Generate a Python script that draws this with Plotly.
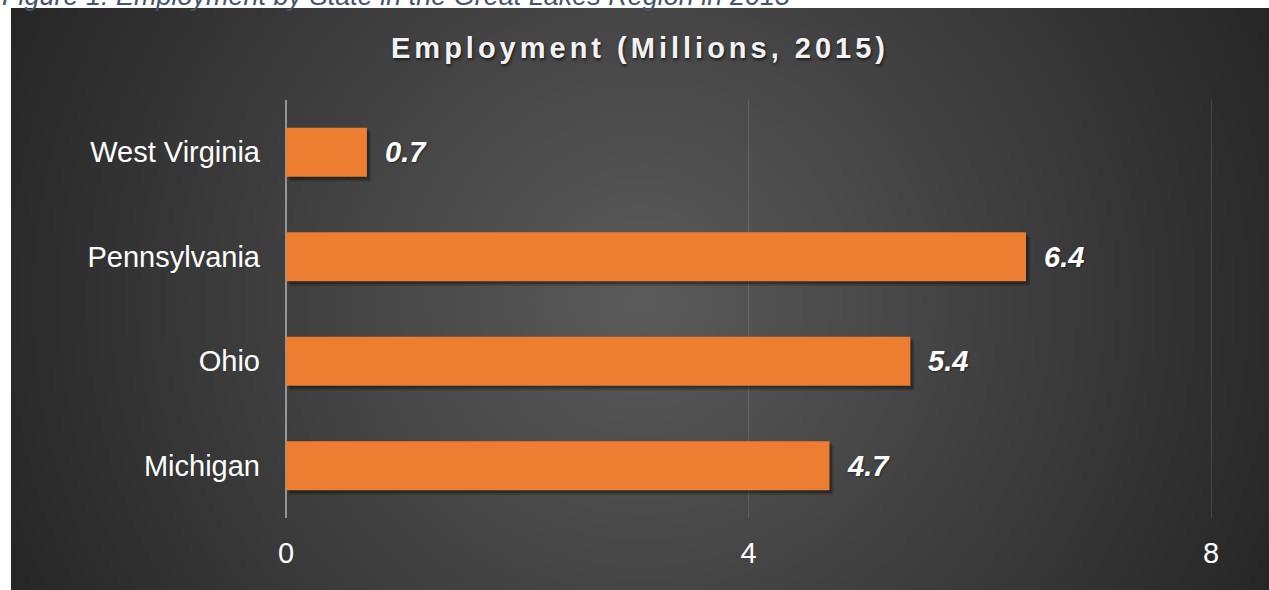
import base64
import struct
import zlib

import numpy as np
import plotly.graph_objects as go

# ---- data -------------------------------------------------------------
states = ["West Virginia", "Pennsylvania", "Ohio", "Michigan"]
employment = [0.7, 6.4, 5.4, 4.7]          # millions, 2015
x_ticks = [0, 4, 8]
x_tick_labels = ["0", "4", "8"]

chart_title = "Employment (Millions, 2015)"
caption = "Figure 1: Employment by State in the Great Lakes Region in 2015"

# ---- styling ----------------------------------------------------------
W, H = 1269, 590
FONT = "Liberation Sans, Arial, sans-serif"
ORANGE = "#ED7D31"
BAR_WIDTH = 0.47

# value 0 sits at x=286 px and value 8 at x=1211 px; the plot area runs a
# few pixels past 8 so that Plotly still draws the gridline at 8
X0_PX, X8_PX = 286, 1211
L, R, T, B = X0_PX, 55, 100, 72
PW, PH = W - L - R, H - T - B
X_MAX = 8 * PW / (X8_PX - X0_PX)

# dark panel behind the chart (pixels)
PANEL_X0, PANEL_Y0, PANEL_X1, PANEL_Y1 = 11, 8, W, H


def px_to_paper_x(px):
    return (px - L) / PW


def px_to_paper_y(py):
    return (H - B - py) / PH


def radial_panel_png(w, h, scale=4, inner=0x5B, outer=0x26):
    """Grayscale PNG with a circular gradient, light centre to dark corners."""
    sw, sh = w // scale, h // scale
    ys, xs = np.mgrid[0:sh, 0:sw].astype(float)
    xs = (xs + 0.5) * scale
    ys = (ys + 0.5) * scale
    cx, cy = w * 0.5, h * 0.5
    d = np.hypot(xs - cx, ys - cy)
    t = np.clip(d / np.hypot(cx, cy), 0, 1)
    g = (inner + (outer - inner) * t).round().astype(np.uint8)
    raw = b"".join(b"\x00" + row.tobytes() for row in g)

    def chunk(tag, data):
        return (struct.pack(">I", len(data)) + tag + data
                + struct.pack(">I", zlib.crc32(tag + data) & 0xFFFFFFFF))

    png = (b"\x89PNG\r\n\x1a\n"
           + chunk(b"IHDR", struct.pack(">IIBBBBB", sw, sh, 8, 0, 0, 0, 0))
           + chunk(b"IDAT", zlib.compress(raw, 9))
           + chunk(b"IEND", b""))
    return "data:image/png;base64," + base64.b64encode(png).decode()


fig = go.Figure()

# soft drop shadows under the bars
for dx, dy, alpha in [(0.035, 0.045, 0.16), (0.02, 0.025, 0.28)]:
    fig.add_trace(go.Bar(
        y=states, x=employment, base=dx, orientation="h",
        width=BAR_WIDTH, offset=-BAR_WIDTH / 2 + dy,
        marker=dict(color=f"rgba(0,0,0,{alpha})", line=dict(width=0)),
        hoverinfo="skip", showlegend=False,
    ))

# the bars themselves
fig.add_trace(go.Bar(
    y=states, x=employment, orientation="h",
    width=BAR_WIDTH, offset=-BAR_WIDTH / 2,
    marker=dict(color=ORANGE, line=dict(width=0)),
    showlegend=False,
))

# value labels just past the bar ends
for s, v in zip(states, employment):
    fig.add_annotation(
        x=v, y=s, xref="x", yref="y", text=f"{v:.1f}",
        xanchor="left", yanchor="middle", xshift=16, showarrow=False,
        font=dict(family=FONT, size=29, color="white", weight="bold",
                  style="italic", shadow="1px 1px 2px rgba(0,0,0,0.45)"),
    )

# chart title (letter-spaced, with a soft shadow)
fig.add_annotation(
    xref="paper", yref="paper",
    x=px_to_paper_x((PANEL_X0 + PANEL_X1) / 2), y=px_to_paper_y(48),
    xanchor="center", yanchor="middle", showarrow=False,
    text=f'<span style="letter-spacing:4px">{chart_title}</span>',
    font=dict(family=FONT, size=29, color="#F2F2F2", weight="bold",
              shadow="1px 2px 3px rgba(0,0,0,0.6)"),
)

# caption above the panel
fig.add_annotation(
    xref="paper", yref="paper",
    x=px_to_paper_x(0), y=px_to_paper_y(-4.4),
    xanchor="left", yanchor="middle", showarrow=False,
    text=caption,
    font=dict(family=FONT, size=27, color="#44546A", style="italic"),
)

fig.add_layout_image(
    source=radial_panel_png(PANEL_X1 - PANEL_X0, PANEL_Y1 - PANEL_Y0),
    xref="paper", yref="paper",
    x=px_to_paper_x(PANEL_X0), y=px_to_paper_y(PANEL_Y0),
    sizex=(PANEL_X1 - PANEL_X0) / PW, sizey=(PANEL_Y1 - PANEL_Y0) / PH,
    xanchor="left", yanchor="top", sizing="stretch", layer="below",
)

fig.update_layout(
    width=W, height=H,
    margin=dict(l=L, r=R, t=T, b=B, pad=0),
    paper_bgcolor="white",
    plot_bgcolor="rgba(0,0,0,0)",
    barmode="overlay",
    showlegend=False,
    font=dict(family=FONT, color="white"),
)

fig.update_xaxes(
    range=[0, X_MAX], tickvals=x_ticks, ticktext=x_tick_labels,
    showgrid=True, gridcolor="rgba(255,255,255,0.12)", gridwidth=1,
    zeroline=True, zerolinecolor="rgba(255,255,255,0.45)", zerolinewidth=2,
    showline=False, ticks="", ticklabelstandoff=15,
    tickfont=dict(family=FONT, size=29, color="white"),
    automargin=False, fixedrange=True,
)
fig.update_yaxes(
    categoryorder="array", categoryarray=states, autorange="reversed",
    showgrid=False, zeroline=False, showline=False, ticks="",
    ticklabelstandoff=25,
    tickfont=dict(family=FONT, size=29, color="white"),
    automargin=False, fixedrange=True,
)

fig.write_html("out.html")
